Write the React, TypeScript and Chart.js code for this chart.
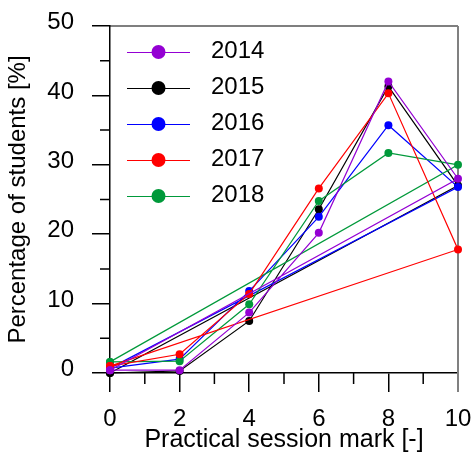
import React, { useEffect, useRef } from "react";
import { Chart, registerables } from "chart.js";

Chart.register(...registerables);

// ---- data ----
const marks = [0, 2, 4, 6, 8, 10];
const years = ["2014", "2015", "2016", "2017", "2018"];
const pct2014 = [0.4, 0.4, 8.7, 20.2, 42.0, 28.0];
const pct2015 = [0.0, 0.3, 7.5, 23.6, 41.3, 27.0];
const pct2016 = [0.7, 2.0, 11.8, 22.5, 35.7, 26.8];
const pct2017 = [1.0, 2.7, 11.4, 26.6, 40.3, 17.8];
const pct2018 = [1.6, 1.7, 9.9, 24.8, 31.7, 30.0];
const minorYTicks = [5, 15, 25, 35, 45];
const minorXTicks = [1, 3, 5, 7, 9];
const colors = ["#9400d3", "#000000", "#0000ff", "#ff0000", "#00993a"];
const drawOrder = [0, 4, 3, 1, 2];

const FONT = "'Liberation Sans', Arial, sans-serif";

const series = [pct2014, pct2015, pct2016, pct2017, pct2018];

const zeroPad = (s: any) => {
  s.paddingTop = 0;
  s.paddingBottom = 0;
  s.paddingLeft = 0;
  s.paddingRight = 0;
};

const framePlugin = {
  id: "frame",
  beforeDatasetsDraw(chart: any) {
    const { ctx, chartArea: a, scales } = chart;
    const xs = scales.x;
    const ys = scales.y;
    ctx.save();
    ctx.strokeStyle = "#000";
    ctx.lineWidth = 1.2;
    ctx.beginPath();
    ctx.moveTo(a.left, a.top);
    ctx.lineTo(a.right, a.top);
    ctx.stroke();
    ctx.strokeStyle = "#808080";
    ctx.lineWidth = 2;
    ctx.beginPath();
    ctx.moveTo(a.right, a.top);
    ctx.lineTo(a.right, a.bottom + 19);
    ctx.stroke();
    ctx.strokeStyle = "#000";
    ctx.lineWidth = 1.5;
    ctx.beginPath();
    minorYTicks.forEach((v) => {
      const p = ys.getPixelForValue(v);
      ctx.moveTo(a.left - 10, p);
      ctx.lineTo(a.left, p);
    });
    minorXTicks.forEach((v) => {
      const p = xs.getPixelForValue(v);
      ctx.moveTo(p, a.bottom);
      ctx.lineTo(p, a.bottom + 11);
    });
    ctx.stroke();
    ctx.restore();
  },
};

const legendPlugin = {
  id: "customLegend",
  afterDatasetsDraw(chart: any) {
    const { ctx, chartArea: a } = chart;
    ctx.save();
    chart.data.datasets.forEach((ds: any, i: number) => {
      const y = a.top + 26 + i * 36;
      ctx.strokeStyle = ds.borderColor;
      ctx.lineWidth = 1;
      ctx.beginPath();
      ctx.moveTo(a.left + 17, y + 0.5);
      ctx.lineTo(a.left + 80, y + 0.5);
      ctx.stroke();
      ctx.fillStyle = ds.borderColor;
      ctx.beginPath();
      ctx.arc(a.left + 48.5, y, 7, 0, Math.PI * 2);
      ctx.fill();
      ctx.fillStyle = "#000";
      ctx.font = `24px ${FONT}`;
      ctx.textAlign = "left";
      ctx.textBaseline = "alphabetic";
      ctx.fillText(ds.label, a.left + 101, y + 5.5);
    });
    ctx.restore();
  },
};

export default function App() {
  const ref = useRef<HTMLCanvasElement>(null);
  useEffect(() => {
    if (!ref.current) return;
    const datasets = series.map((vals, k) => {
      const pts = marks.map((m, i) => ({ x: m, y: vals[i] }));
      pts.push({ x: marks[0], y: vals[0] });
      return {
        label: years[k],
        data: pts,
        borderColor: colors[k],
        backgroundColor: colors[k],
        pointBackgroundColor: colors[k],
        pointBorderWidth: 0,
        pointRadius: 4,
        borderWidth: 1.2,
        tension: 0,
        fill: false,
        clip: false as any,
        order: drawOrder[k],
      };
    });
    const chart = new Chart(ref.current, {
      type: "line",
      data: { datasets },
      options: {
        animation: false,
        responsive: false,
        devicePixelRatio: 1,
        layout: { padding: { left: 0, right: 15, top: 26, bottom: 0 } },
        plugins: {
          legend: { display: false },
          tooltip: { enabled: false },
        },
        scales: {
          x: {
            type: "linear",
            min: 0,
            max: 10,
            afterFit: (s: any) => {
              s.height = 86;
              zeroPad(s);
            },
            ticks: {
              stepSize: 2,
              color: "#000",
              font: { family: FONT, size: 24 },
              padding: 13,
              maxRotation: 0,
            },
            grid: {
              drawOnChartArea: false,
              drawTicks: true,
              tickLength: 19,
              color: "#000",
              lineWidth: 1.5,
            },
            border: { display: true, color: "#000", width: 1.5 },
            title: {
              display: true,
              text: "Practical session mark [-]",
              color: "#000",
              font: { family: FONT, size: 25 },
              padding: { top: 0, bottom: 4 },
            },
          },
          y: {
            type: "linear",
            min: 0,
            max: 50,
            afterFit: (s: any) => {
              s.width = 110;
              zeroPad(s);
            },
            ticks: {
              stepSize: 10,
              color: "#000",
              font: { family: FONT, size: 24 },
              padding: 18,
              labelOffset: -3.5,
            },
            grid: {
              drawOnChartArea: false,
              drawTicks: true,
              tickLength: 18,
              color: "#000",
              lineWidth: 1.5,
            },
            border: { display: true, color: "#000", width: 1.5 },
            title: {
              display: true,
              text: "Percentage of students [%]",
              color: "#000",
              font: { family: FONT, size: 24 },
              padding: { top: 4, bottom: 0 },
            },
          },
        },
      },
      plugins: [framePlugin, legendPlugin],
    });
    return () => chart.destroy();
  }, []);
  return (
    <div style={{ position: "fixed", left: 0, top: 0, width: 473, height: 459 }}>
      <canvas ref={ref} width={473} height={459} />
    </div>
  );
}
